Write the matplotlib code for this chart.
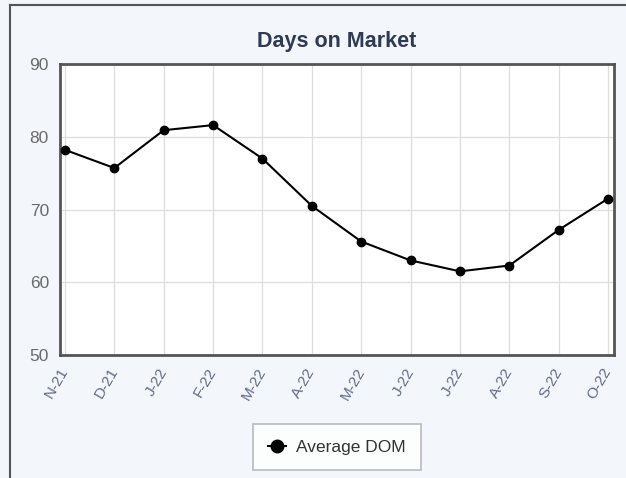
import matplotlib
matplotlib.use("Agg")
import matplotlib.pyplot as plt
from matplotlib.lines import Line2D

# data
months = ["N-21", "D-21", "J-22", "F-22", "M-22", "A-22",
          "M-22", "J-22", "J-22", "A-22", "S-22", "O-22"]
avg_dom = [78.2, 75.7, 80.9, 81.6, 77.0, 70.5,
           65.6, 63.0, 61.5, 62.3, 67.2, 71.5]
y_ticks = [50, 60, 70, 80, 90]

plt.rcParams["font.family"] = ["Liberation Sans", "DejaVu Sans"]

W, H = 626, 478
fig = plt.figure(figsize=(W / 100, H / 100), dpi=100)
fig.patch.set_facecolor("#f3f6fa")

# outer panel border (top and left edges visible)
fig.add_artist(Line2D([10 / W, 10 / W], [0, 1 - 5 / H], color="#555555", lw=1.5))
fig.add_artist(Line2D([10 / W, 1], [1 - 5 / H, 1 - 5 / H], color="#555555", lw=1.5))

left, right, top, bottom = 60, 614, 64, 355
ax = fig.add_axes([left / W, 1 - bottom / H, (right - left) / W, (bottom - top) / H])
ax.set_facecolor("white")

x = list(range(len(months)))
ax.plot(x, avg_dom, color="black", lw=1.5, marker="o", markersize=6, zorder=3)

ax.set_xlim(-0.1, len(months) - 1 + 0.12)
ax.set_ylim(50, 90)
ax.set_yticks(y_ticks)
ax.set_xticks(x)
ax.set_xticklabels(months, rotation=60, ha="right", va="center",
                   rotation_mode="anchor", fontsize=11, color="#5f6c88")
ax.tick_params(axis="y", labelsize=12.5, labelcolor="#6a6a6a", length=0, pad=8)
ax.tick_params(axis="x", length=0, pad=10)
ax.grid(True, color="#dddddd", lw=0.9)
ax.set_axisbelow(True)
for s in ax.spines.values():
    s.set_color("#555555")
    s.set_linewidth(2)

fig.text(337 / W, 1 - 41 / H, "Days on Market", ha="center", va="center",
         fontsize=15.5, fontweight="bold", color="#2e3b55")

handle = Line2D([], [], color="black", lw=1.5, marker="o", markersize=9)
leg = fig.legend([handle], ["Average DOM"], loc="center",
                 bbox_to_anchor=(337 / W, 1 - 447 / H), frameon=True,
                 fontsize=12.5, handlelength=1.0, handletextpad=0.6,
                 borderpad=0.9, borderaxespad=0,
                 fancybox=False, edgecolor="#aaaaaa", facecolor="white")
leg.get_frame().set_linewidth(1.2)
for t in leg.get_texts():
    t.set_color("#333333")

fig.savefig("out.png", dpi=100, facecolor=fig.get_facecolor())
